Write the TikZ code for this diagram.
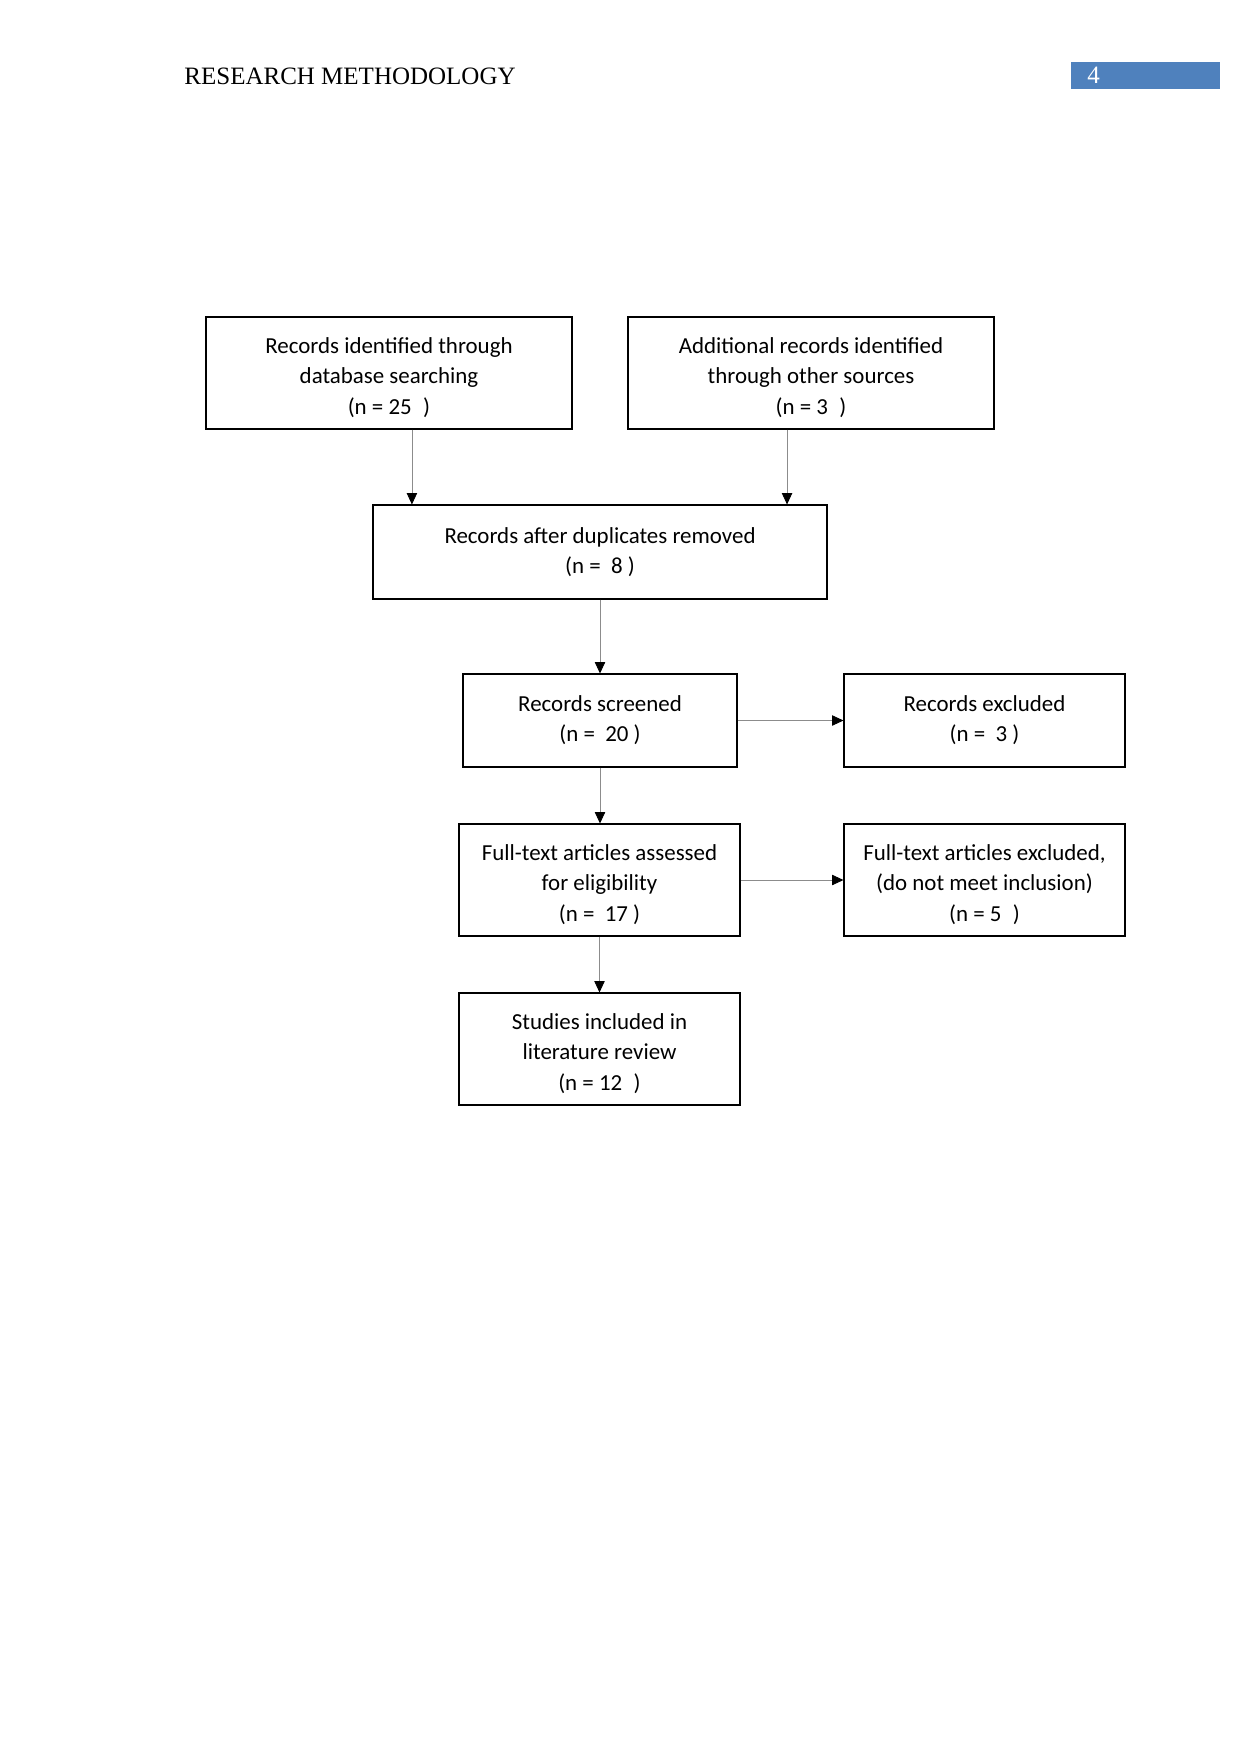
\documentclass[tikz,border=0pt]{standalone}
\usepackage{fontspec}
\setmainfont{Carlito}
\newfontfamily\hdrfont{Liberation Serif}
\usetikzlibrary{arrows.meta}
\definecolor{hdrblue}{HTML}{4F81BD}
\newcommand{\lowstrut}{\rule{0pt}{12pt}}
\tikzset{
  box/.style={draw=black, line width=0.5pt, align=center, font=\fontsize{11}{14.5}\selectfont, inner sep=0pt},
  arr/.style={draw=black!45, line width=0.4pt, -{Triangle[length=5.5pt,width=5pt,color=black]}}
}
\begin{document}
\begin{tikzpicture}[x=0.48pt,y=-0.48pt]
\useasboundingbox (0,0) rectangle (1241,1754);
% header
\node[anchor=base west, font=\hdrfont\fontsize{12}{14}\selectfont, inner sep=0pt] (hdr) at (184,84) {RESEARCH METHODOLOGY};
\node[fill=hdrblue, minimum width=149*0.48pt, minimum height=27*0.48pt, inner sep=0pt] (pgbox) at (1145.5,75.5) {};
\node[anchor=base west, font=\hdrfont\fontsize{12}{14}\selectfont, text=white, inner sep=0pt] (pgnum) at (1087,83) {4};
% boxes
\node[box, minimum width=366*0.48pt, minimum height=112*0.48pt] (b1) at (389,373) {\lowstrut Records identified through\\database searching\\(n = 25\enspace)};
\node[box, minimum width=366*0.48pt, minimum height=112*0.48pt] (b2) at (811,373) {\lowstrut Additional records identified\\through other sources\\(n = 3\enspace)};
\node[box, minimum width=454*0.48pt, minimum height=94*0.48pt] (b3) at (600,552) {Records after duplicates removed\\(n = \ 8 )};
\node[box, minimum width=274*0.48pt, minimum height=93*0.48pt] (b4) at (600,720.5) {Records screened\\(n = \ 20 )};
\node[box, minimum width=281*0.48pt, minimum height=93*0.48pt] (b5) at (984.5,720.5) {Records excluded\\(n = \ 3 )};
\node[box, minimum width=281*0.48pt, minimum height=112*0.48pt] (b6) at (599.5,880) {\lowstrut Full-text articles assessed\\for eligibility\\(n = \ 17 )};
\node[box, minimum width=281*0.48pt, minimum height=112*0.48pt] (b7) at (984.5,880) {\lowstrut Full-text articles excluded,\\(do not meet inclusion)\\(n = 5\enspace)};
\node[box, minimum width=281*0.48pt, minimum height=112*0.48pt] (b8) at (599.5,1049) {\lowstrut Studies included in\\literature review\\(n = 12\enspace)};
% connectors
\draw[arr] ([xshift=11pt]b1.south) -- ([xshift=11pt]b1.south |- b3.north);
\draw[arr] ([xshift=-11.5pt]b2.south) -- ([xshift=-11.5pt]b2.south |- b3.north);
\draw[arr] (b3.south) -- (b3.south |- b4.north);
\draw[arr] (b4) -- (b5);
\draw[arr] (b4.south) -- (b4.south |- b6.north);
\draw[arr] (b6) -- (b7);
\draw[arr] (b6.south) -- (b8.north);
\end{tikzpicture}
\end{document}
